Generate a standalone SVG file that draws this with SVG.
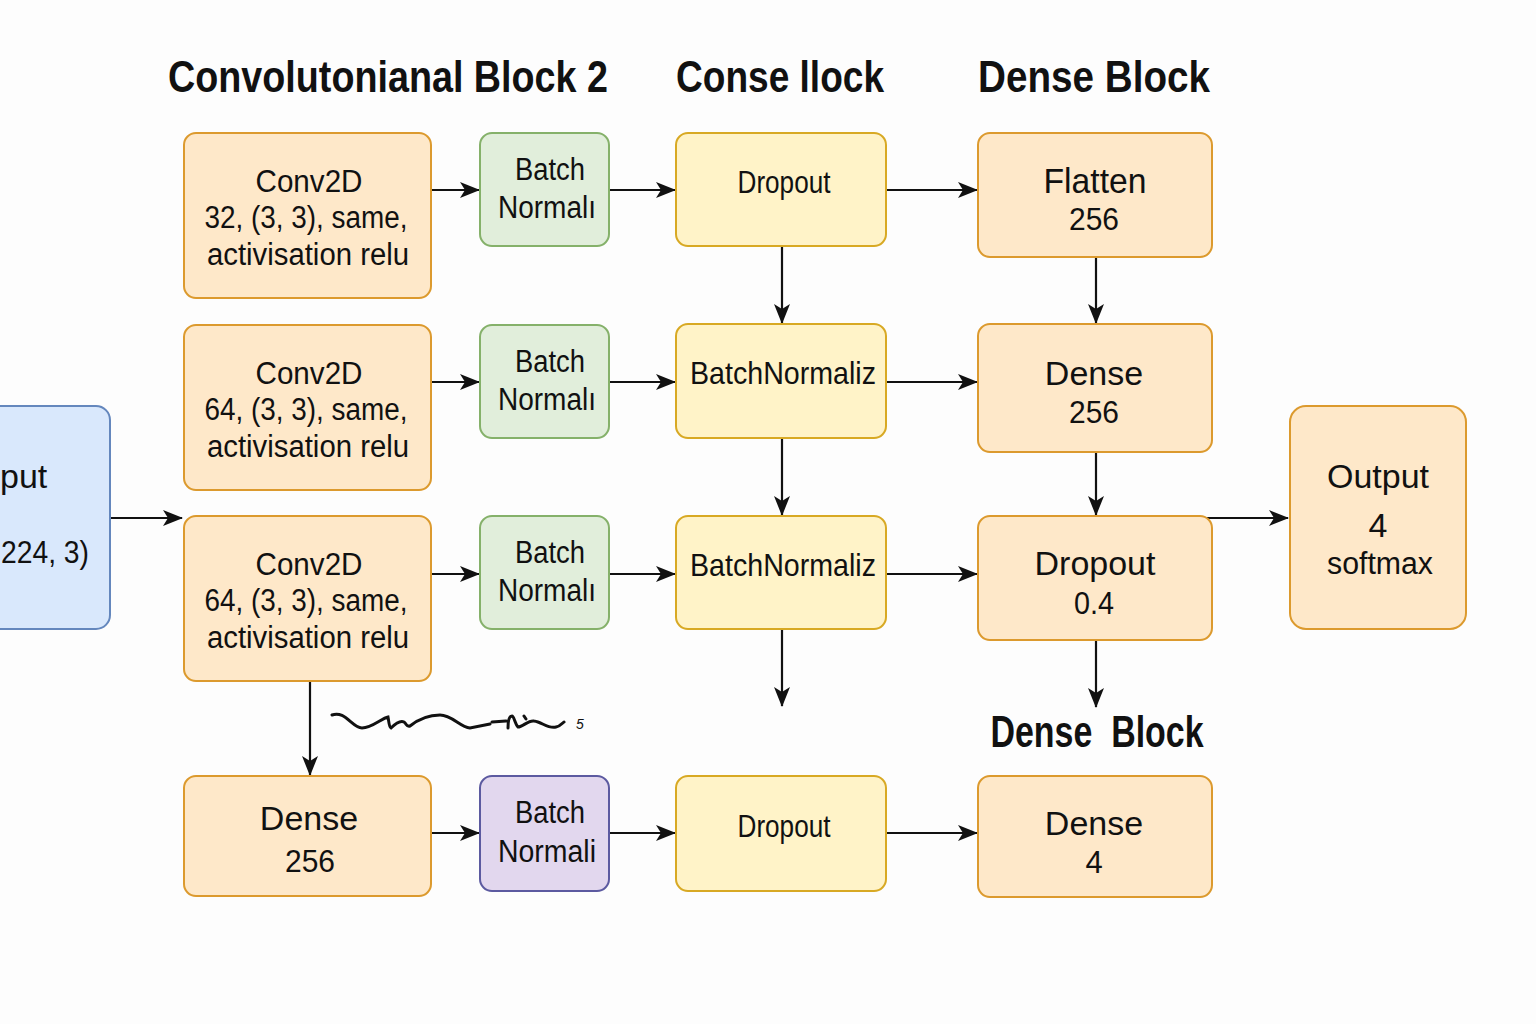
<svg xmlns="http://www.w3.org/2000/svg" width="1536" height="1024" viewBox="0 0 1536 1024">
<style>
text{font-family:"Liberation Sans",Arial,sans-serif;fill:#111;text-anchor:middle}
.t{font-size:45px;font-weight:bold}
.orange{fill:#fee8c9;stroke:#dc9a2e;stroke-width:2}
.yellow{fill:#fff3c8;stroke:#d8a924;stroke-width:2}
.green{fill:#e1eedb;stroke:#85b16a;stroke-width:2}
.purple{fill:#e2d7ee;stroke:#5c5aa0;stroke-width:2}
.blue{fill:#d9e8fc;stroke:#6487bd;stroke-width:2}
.c{stroke:#111;stroke-width:2.2;fill:none;marker-end:url(#ah)}
.s30{font-size:30px}
.s31{font-size:31px}
.s32{font-size:32px}
.s34{font-size:34px}
</style>
<defs>
<marker id="ah" viewBox="0 0 20 16" refX="19" refY="8" markerWidth="20" markerHeight="16" markerUnits="userSpaceOnUse" orient="auto">
<path d="M0,0 L20,8 L0,16 L5,8 z" fill="#111"/>
</marker>
</defs>
<rect width="1536" height="1024" fill="#fdfdfd"/>

<g id="titles">
<text class="t" x="388" y="92" textLength="440" lengthAdjust="spacingAndGlyphs">Convolutonianal Block 2</text>
<text class="t" x="780" y="92" textLength="208" lengthAdjust="spacingAndGlyphs">Conse llock</text>
<text class="t" x="1094" y="92" textLength="232" lengthAdjust="spacingAndGlyphs">Dense Block</text>
<text class="t" x="1097" y="747" xml:space="preserve" textLength="213" lengthAdjust="spacingAndGlyphs">Dense  Block</text>
</g>

<g id="connectors">
<line class="c" x1="431" y1="190" x2="479" y2="190"/>
<line class="c" x1="609" y1="190" x2="675" y2="190"/>
<line class="c" x1="886" y1="190" x2="977" y2="190"/>
<line class="c" x1="431" y1="382" x2="479" y2="382"/>
<line class="c" x1="609" y1="382" x2="675" y2="382"/>
<line class="c" x1="886" y1="382" x2="977" y2="382"/>
<line class="c" x1="110" y1="518" x2="182" y2="518"/>
<line class="c" x1="431" y1="574" x2="479" y2="574"/>
<line class="c" x1="609" y1="574" x2="675" y2="574"/>
<line class="c" x1="886" y1="574" x2="977" y2="574"/>
<line class="c" x1="1206" y1="518" x2="1288" y2="518"/>
<line class="c" x1="431" y1="833" x2="479" y2="833"/>
<line class="c" x1="609" y1="833" x2="675" y2="833"/>
<line class="c" x1="886" y1="833" x2="977" y2="833"/>
<line class="c" x1="782" y1="246" x2="782" y2="323"/>
<line class="c" x1="782" y1="438" x2="782" y2="515"/>
<line class="c" x1="782" y1="629" x2="782" y2="706"/>
<line class="c" x1="1096" y1="257" x2="1096" y2="323"/>
<line class="c" x1="1096" y1="452" x2="1096" y2="515"/>
<line class="c" x1="1096" y1="640" x2="1096" y2="707"/>
<line class="c" x1="310" y1="681" x2="310" y2="775"/>
</g>

<g id="scribble">
<path d="M332,715 C345,710 352,728 362,728 C372,728 382,718 388,717 C389,722 389,727 391,728 C395,724 400,720 404,722 C407,724 406,727 410,726 C415,722 425,715 440,715 C452,715 460,727 470,728 L490,724 M492,722 L506,721 M508,728 C508,722 509,716 512,716 C514,716 515,724 518,727 C523,727 528,720 534,721 C542,722 548,729 556,727 C561,726 562,723 564,722 M524,716 L526,719" fill="none" stroke="#111" stroke-width="3" stroke-linecap="round"/>
<text x="580" y="729" style="font-size:14px;font-style:italic">5</text>
</g>

<g id="input">
<rect class="blue" x="-20" y="406" width="130" height="223" rx="14"/>
<text class="s34" x="0" y="488" style="text-anchor:start">put</text>
<text class="s31" x="1" y="563" style="text-anchor:start" textLength="88" lengthAdjust="spacingAndGlyphs">224, 3)</text>
</g>

<g id="conv1">
<rect class="orange" x="184" y="133" width="247" height="165" rx="12"/>
<text class="s31" x="309" y="192" textLength="107" lengthAdjust="spacingAndGlyphs">Conv2D</text>
<text class="s31" x="306" y="228" textLength="203" lengthAdjust="spacingAndGlyphs">32, (3, 3), same,</text>
<text class="s31" x="308" y="265" textLength="202" lengthAdjust="spacingAndGlyphs">activisation relu</text>
</g>
<g id="bn1">
<rect class="green" x="480" y="133" width="129" height="113" rx="12"/>
<text class="s31" x="550" y="180" textLength="70" lengthAdjust="spacingAndGlyphs">Batch</text>
<text class="s31" x="547" y="218" textLength="98" lengthAdjust="spacingAndGlyphs">Normalı</text>
</g>
<g id="drop1">
<rect class="yellow" x="676" y="133" width="210" height="113" rx="12"/>
<text class="s31" x="784" y="193" textLength="93" lengthAdjust="spacingAndGlyphs">Dropout</text>
</g>
<g id="flatten">
<rect class="orange" x="978" y="133" width="234" height="124" rx="12"/>
<text x="1095" y="193" style="font-size:35px" textLength="103" lengthAdjust="spacingAndGlyphs">Flatten</text>
<text class="s31" x="1094" y="230" textLength="50" lengthAdjust="spacingAndGlyphs">256</text>
</g>

<g id="conv2">
<rect class="orange" x="184" y="325" width="247" height="165" rx="12"/>
<text class="s31" x="309" y="384" textLength="107" lengthAdjust="spacingAndGlyphs">Conv2D</text>
<text class="s31" x="306" y="420" textLength="203" lengthAdjust="spacingAndGlyphs">64, (3, 3), same,</text>
<text class="s31" x="308" y="457" textLength="202" lengthAdjust="spacingAndGlyphs">activisation relu</text>
</g>
<g id="bn2">
<rect class="green" x="480" y="325" width="129" height="113" rx="12"/>
<text class="s31" x="550" y="372" textLength="70" lengthAdjust="spacingAndGlyphs">Batch</text>
<text class="s31" x="547" y="410" textLength="98" lengthAdjust="spacingAndGlyphs">Normalı</text>
</g>
<g id="bnz2">
<rect class="yellow" x="676" y="324" width="210" height="114" rx="12"/>
<text class="s32" x="783" y="384" textLength="186" lengthAdjust="spacingAndGlyphs">BatchNormaliz</text>
</g>
<g id="dense1">
<rect class="orange" x="978" y="324" width="234" height="128" rx="12"/>
<text class="s34" x="1094" y="385">Dense</text>
<text class="s31" x="1094" y="423" textLength="50" lengthAdjust="spacingAndGlyphs">256</text>
</g>

<g id="conv3">
<rect class="orange" x="184" y="516" width="247" height="165" rx="12"/>
<text class="s31" x="309" y="575" textLength="107" lengthAdjust="spacingAndGlyphs">Conv2D</text>
<text class="s31" x="306" y="611" textLength="203" lengthAdjust="spacingAndGlyphs">64, (3, 3), same,</text>
<text class="s31" x="308" y="648" textLength="202" lengthAdjust="spacingAndGlyphs">activisation relu</text>
</g>
<g id="bn3">
<rect class="green" x="480" y="516" width="129" height="113" rx="12"/>
<text class="s31" x="550" y="563" textLength="70" lengthAdjust="spacingAndGlyphs">Batch</text>
<text class="s31" x="547" y="601" textLength="98" lengthAdjust="spacingAndGlyphs">Normalı</text>
</g>
<g id="bnz3">
<rect class="yellow" x="676" y="516" width="210" height="113" rx="12"/>
<text class="s32" x="783" y="576" textLength="186" lengthAdjust="spacingAndGlyphs">BatchNormaliz</text>
</g>
<g id="drop2">
<rect class="orange" x="978" y="516" width="234" height="124" rx="12"/>
<text class="s34" x="1095" y="575">Dropout</text>
<text class="s31" x="1094" y="614" textLength="40" lengthAdjust="spacingAndGlyphs">0.4</text>
</g>
<g id="output">
<rect class="orange" x="1290" y="406" width="176" height="223" rx="16"/>
<text class="s34" x="1378" y="488">Output</text>
<text class="s34" x="1378" y="537">4</text>
<text class="s31" x="1380" y="574" textLength="106" lengthAdjust="spacingAndGlyphs">softmax</text>
</g>

<g id="dense256">
<rect class="orange" x="184" y="776" width="247" height="120" rx="12"/>
<text class="s34" x="309" y="830">Dense</text>
<text class="s31" x="310" y="872" textLength="50" lengthAdjust="spacingAndGlyphs">256</text>
</g>
<g id="bn4">
<rect class="purple" x="480" y="776" width="129" height="115" rx="12"/>
<text class="s31" x="550" y="823" textLength="70" lengthAdjust="spacingAndGlyphs">Batch</text>
<text class="s31" x="547" y="862" textLength="98" lengthAdjust="spacingAndGlyphs">Normali</text>
</g>
<g id="drop3">
<rect class="yellow" x="676" y="776" width="210" height="115" rx="12"/>
<text class="s31" x="784" y="837" textLength="93" lengthAdjust="spacingAndGlyphs">Dropout</text>
</g>
<g id="dense4">
<rect class="orange" x="978" y="776" width="234" height="121" rx="12"/>
<text class="s34" x="1094" y="835">Dense</text>
<text class="s31" x="1094" y="873">4</text>
</g>
</svg>
